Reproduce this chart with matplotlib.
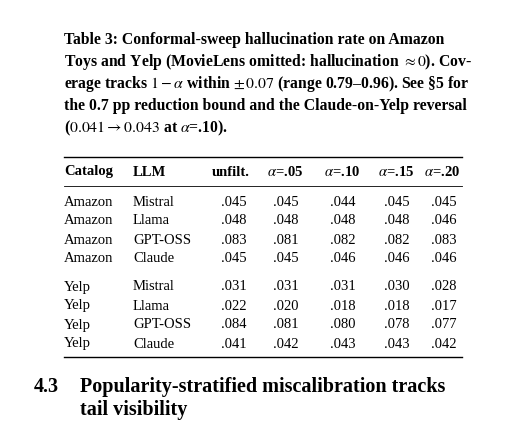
import matplotlib
matplotlib.use("Agg")
import matplotlib.pyplot as plt

plt.rcParams['font.family'] = ['Liberation Serif', 'DejaVu Serif']
plt.rcParams['mathtext.fontset'] = 'stix'

catalogs = ["Amazon"]*4 + ["Yelp"]*4
llms = ["Mistral", "Llama", "GPT-OSS", "Claude"]*2
unfilt = [".045", ".048", ".083", ".045", ".031", ".022", ".084", ".041"]
a05 = [".045", ".048", ".081", ".045", ".031", ".020", ".081", ".042"]
a10 = [".044", ".048", ".082", ".046", ".031", ".018", ".080", ".043"]
a15 = [".045", ".048", ".082", ".046", ".030", ".018", ".078", ".043"]
a20 = [".045", ".046", ".083", ".046", ".028", ".017", ".077", ".042"]
headers = ["Catalog", "LLM", "unfilt.", r"$\alpha$=.05", r"$\alpha$=.10", r"$\alpha$=.15", r"$\alpha$=.20"]

W, H = 510, 430
fig = plt.figure(figsize=(W/100, H/100), dpi=100)
ax = fig.add_axes([0, 0, 1, 1])
ax.set_xlim(0, W); ax.set_ylim(H, 0); ax.axis('off')

cap = [
    "Table 3: Conformal-sweep hallucination rate on Amazon",
    r"Toys and Yelp (MovieLens omitted: hallucination $\approx 0$). Cov-",
    r"erage tracks $1-\alpha$ within $\pm\,0.07$ (range 0.79–0.96). See §5 for",
    "the 0.7 pp reduction bound and the Claude-on-Yelp reversal",
    r"($0.041\rightarrow0.043$ at $\alpha$=.10).",
]
for i, t in enumerate(cap):
    ax.text(64, 40 + 22*i, t, fontsize=11.3, fontweight='bold', va='center', ha='left')

ax.plot([64, 462], [157, 157], color='black', lw=1.0)
ax.plot([64, 462], [186, 186], color='black', lw=0.6)
ax.plot([64, 462], [357, 357], color='black', lw=1.0)

hx = [64, 133, 250, 303, 360, 414, 460]
vx = [64, 133, 247, 299, 356, 410, 457]
has = ['left', 'left', 'right', 'right', 'right', 'right', 'right']
for x, h, t in zip(hx, has, headers):
    ax.text(x, 172, t, fontsize=10.5, fontweight='bold', ha=h, va='center')

rows_y = [202, 221, 240, 259, 287, 306, 325, 344]
for i, y in enumerate(rows_y):
    vals = [catalogs[i], llms[i], unfilt[i], a05[i], a10[i], a15[i], a20[i]]
    for x, h, v in zip(vx, has, vals):
        ax.text(x, y, v, fontsize=10.5, ha=h, va='center')

ax.text(34, 387, "4.3", fontsize=14.5, fontweight='bold', va='center')
ax.text(80, 387, "Popularity-stratified miscalibration tracks", fontsize=14.5, fontweight='bold', va='center')
ax.text(80, 410, "tail visibility", fontsize=14.5, fontweight='bold', va='center')

fig.savefig("out.png", dpi=100, facecolor='white')
